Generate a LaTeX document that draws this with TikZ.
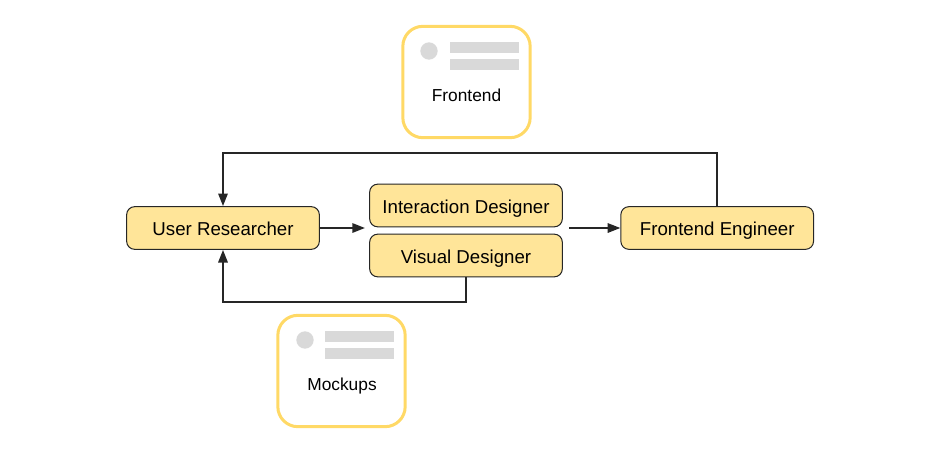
\documentclass[tikz,border=0pt]{standalone}
\usepackage{fontspec}
\setmainfont{Liberation Sans}
\usetikzlibrary{arrows.meta}
\definecolor{rolefill}{RGB}{255,229,153}
\definecolor{cardline}{RGB}{255,217,102}
\definecolor{cardgray}{RGB}{217,217,217}
\tikzset{
    rolebox/.style={draw=black!85, line width=0.75pt, rounded corners=6pt, fill=rolefill, minimum width=144.5pt, minimum height=32pt, inner sep=0pt, text height=10.8pt, text depth=0pt, font=\fontsize{14}{16}\selectfont},
    cardbox/.style={draw=cardline, line width=2.25pt, rounded corners=15pt, fill=white, minimum width=95.5pt, minimum height=83.5pt, inner sep=0pt},
    carddot/.style={circle, fill=cardgray, minimum size=13pt, inner sep=0pt},
    cardbar/.style={fill=cardgray, minimum width=52pt, minimum height=8.25pt, inner sep=0pt},
    cardtext/.style={font=\fontsize{13}{15}\selectfont, inner sep=0pt, text height=10pt, text depth=0pt},
    flow/.style={-{Triangle[length=9.5pt,width=7pt]}, line width=1.5pt, black!85}
}
\begin{document}
\begin{tikzpicture}[x=0.75pt, y=-0.75pt]
    \useasboundingbox (0,0) rectangle (936,468);
    \node[rolebox] (researcher) at (223,228) {User Researcher};
    \node[rolebox, text height=12pt] (interaction) at (466,205.5) {Interaction Designer};
    \node[rolebox, text height=12pt] (visual) at (466,255.5) {Visual Designer};
    \node[rolebox] (engineer) at (717.2,228) {Frontend Engineer};
    \coordinate (designin) at (365,228);
    \coordinate (designout) at (569,228);
    \coordinate (topleft) at (223,153);
    \coordinate (lowleft) at (223,302);
    % cards
    \node[cardbox] (frontendcard) at (466.5,82) {};
    \node[carddot] (frontenddot) at (429,51) {};
    \node[cardbar] (frontendbara) at (484.5,47.5) {};
    \node[cardbar] (frontendbarb) at (484.5,64.5) {};
    \node[cardtext] (frontendtext) at (466.5,94.5) {Frontend};
    \node[cardbox] (mockupcard) at (341.5,371) {};
    \node[carddot] (mockupdot) at (305,340) {};
    \node[cardbar] (mockupbara) at (359.5,336.5) {};
    \node[cardbar] (mockupbarb) at (359.5,353) {};
    \node[cardtext] (mockuptext) at (342,383.5) {Mockups};
    % connectors
    \draw[flow] (researcher) -- (designin);
    \draw[flow] (designout) -- (engineer);
    \draw[flow] (engineer.north) |- (topleft) -- (researcher.north);
    \draw[flow] (visual.south) |- (lowleft) -- (researcher.south);
\end{tikzpicture}
\end{document}
